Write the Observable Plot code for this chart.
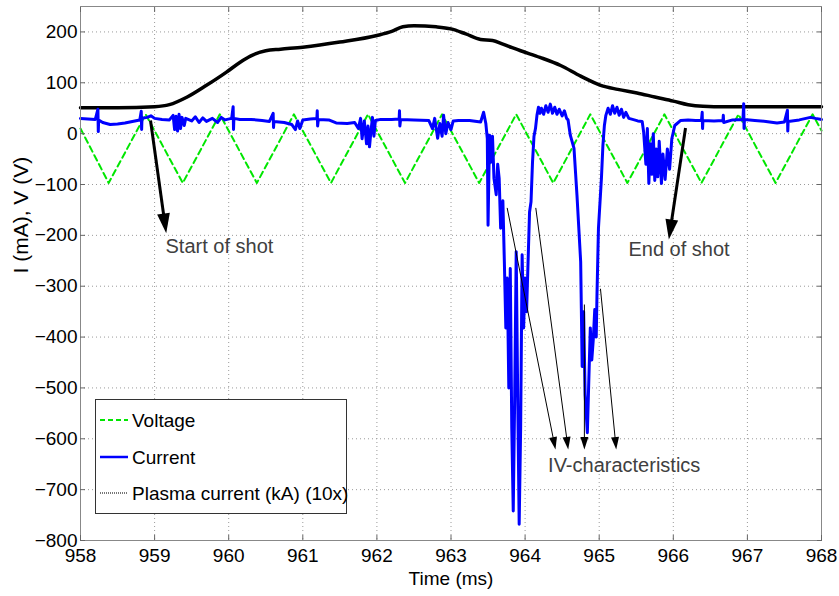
<!DOCTYPE html>
<html><head><meta charset="utf-8">
<script src="https://cdn.jsdelivr.net/npm/d3@7"></script>
<script src="https://cdn.jsdelivr.net/npm/@observablehq/plot@0.6"></script>
<style>
body{margin:0;background:#fff;}
#wrap{position:relative;width:839px;height:596px;overflow:hidden;}
#legend{position:absolute;left:95px;top:399px;}
</style></head><body><div id="wrap"></div>
<script>
// ---- data ----
const xTicks = [958, 959, 960, 961, 962, 963, 964, 965, 966, 967, 968];
const yTicks = [-800, -700, -600, -500, -400, -300, -200, -100, 0, 100, 200];

const voltT = [958.0, 958.38, 958.88, 959.38, 959.88, 960.38, 960.88, 961.38, 961.88, 962.38, 962.88, 963.38, 963.88, 964.38, 964.88, 965.38, 965.88, 966.38, 966.88, 967.38, 967.88, 968.0];
const voltV = [10, -97, 38, -97, 38, -97, 38, -97, 38, -97, 38, -97, 38, -97, 38, -97, 38, -97, 38, -97, 38, 6];

const plasmaT = [958.0, 958.5, 959.0, 959.2, 959.44, 959.7, 959.97, 960.15, 960.3, 960.5, 960.7, 961.0, 961.5, 962.0, 962.2, 962.35, 962.5, 962.8, 963.0, 963.2, 963.4, 963.56, 963.7, 963.94, 964.2, 964.48, 964.75, 965.02, 965.25, 965.51, 965.75, 966.0, 966.2, 966.4, 966.7, 967.0, 967.5, 968.0];
const plasmaV = [51, 51, 53, 57, 72, 95, 121, 140, 153, 163, 166, 170, 180, 193, 201, 210, 212, 210, 206, 196, 185, 183, 176, 163, 150, 134, 113, 95, 87, 80, 72, 64, 57, 54, 53, 53, 53, 53];

const currT = [958.00, 958.10, 958.20, 958.235, 958.24, 958.245, 958.30, 958.40, 958.50, 958.60, 958.70, 958.80, 958.82, 958.825, 958.83, 958.90, 958.95, 959.00, 959.10, 959.20, 959.25, 959.27, 959.29, 959.31, 959.33, 959.35, 959.37, 959.40, 959.42, 959.50, 959.55, 959.60, 959.65, 959.70, 959.78, 959.85, 959.90, 959.95, 960.04, 960.06, 960.065, 960.07, 960.15, 960.30, 960.45, 960.55, 960.60, 960.605, 960.61, 960.75, 960.85, 960.90, 960.93, 960.96, 961.00, 961.10, 961.19, 961.195, 961.20, 961.21, 961.35, 961.45, 961.60, 961.70, 961.75, 961.78, 961.80, 961.83, 961.86, 961.88, 961.90, 961.92, 961.94, 961.96, 961.98, 962.05, 962.20, 962.30, 962.305, 962.31, 962.32, 962.50, 962.70, 962.75, 962.78, 962.82, 962.85, 962.88, 962.90, 962.93, 962.96, 963.00, 963.03, 963.10, 963.25, 963.40, 963.44, 963.47, 963.49, 963.50, 963.52, 963.54, 963.56, 963.58, 963.61, 963.63, 963.65, 963.67, 963.70, 963.72, 963.74, 963.76, 963.78, 963.80, 963.82, 963.84, 963.86, 963.88, 963.90, 963.92, 963.94, 963.96, 963.98, 964.00, 964.02, 964.04, 964.06, 964.08, 964.10, 964.12, 964.14, 964.16, 964.18, 964.20, 964.22, 964.25, 964.28, 964.31, 964.34, 964.37, 964.40, 964.43, 964.46, 964.50, 964.53, 964.56, 964.58, 964.61, 964.66, 964.70, 964.75, 964.77, 964.79, 964.81, 964.84, 964.86, 964.88, 964.90, 964.92, 964.94, 964.96, 964.97, 964.99, 965.03, 965.05, 965.07, 965.09, 965.12, 965.15, 965.18, 965.21, 965.24, 965.27, 965.30, 965.33, 965.36, 965.40, 965.45, 965.52, 965.58, 965.60, 965.63, 965.65, 965.67, 965.69, 965.71, 965.73, 965.75, 965.77, 965.79, 965.81, 965.84, 965.86, 965.89, 965.92, 965.95, 965.98, 966.02, 966.10, 966.20, 966.30, 966.38, 966.39, 966.395, 966.40, 966.55, 966.67, 966.675, 966.68, 966.80, 966.94, 966.95, 966.955, 966.96, 967.10, 967.25, 967.40, 967.50, 967.54, 967.545, 967.55, 967.70, 967.85, 967.92, 968.00];
const currV = [30, 29, 28, 48, 4, 27, 22, 18, 19, 21, 24, 27, 44, 8, 30, 32, 35, 30, 28, 27, 36, 8, 34, 5, 38, 10, 32, 16, 30, 25, 33, 22, 31, 24, 30, 22, 32, 27, 30, 53, 8, 30, 28, 28, 26, 24, 40, 12, 24, 22, 18, 8, 25, 10, 27, 29, 30, 45, 15, 28, 27, 21, 20, 22, 10, 30, -10, 25, -20, 15, -26, 5, 32, -5, 26, 28, 28, 29, 45, 15, 28, 27, 26, 10, 30, -9, 20, -5, 36, 0, 22, 8, 25, 26, 26, 23, 42, 20, -10, -180, -3, -56, -5, -88, -120, -60, -88, -186, -132, -252, -382, -284, -500, -265, -578, -742, -513, -232, -513, -768, -578, -238, -382, -284, -350, -252, -154, -134, -56, -5, 10, 36, 52, 40, 50, 38, 55, 42, 58, 40, 52, 38, 48, 35, 45, 30, 27, -3, -29, -121, -252, -458, -350, -513, -588, -484, -382, -445, -405, -346, -400, -317, -186, -88, -23, 16, 36, 50, 38, 55, 40, 52, 36, 48, 32, 42, 30, 28, 25, 24, 3, -60, 10, -98, -20, -80, 0, -92, -30, -85, -15, -98, -40, -90, -30, -70, -10, 16, 26, 27, 26, 26, 42, 10, 26, 25, 26, 36, 22, 27, 28, 59, 10, 28, 26, 24, 21, 23, 46, 5, 24, 27, 32, 30, 28];

// arrows: start (x1,y1) -> tip (x2,y2)
const arrowX1 = [958.945, 966.165, 963.758, 964.144, 964.80, 965.017];
const arrowY1 = [26, 11, -146, -146, -336, -305];
const arrowX2 = [959.157, 965.94, 964.41, 964.582, 964.80, 965.23];
const arrowY2 = [-196, -208, -621, -621, -621, -621];
const arrowHeavy = [true, true, false, false, false, false];

const noteText = ["Start of shot", "End of shot", "IV-characteristics"];
const noteX = [959.147, 965.395, 964.31];
const noteY = [-222, -228, -653];

const legendLabels = ["Voltage", "Current", "Plasma current (kA) (10x)"];

// ---- layout ----
const W = 839, H = 596, mL = 80, mR = 18, mT = 6, mB = 56;
const xDomain = [958, 968], yDomain = [-800, 250];
const sx = d3.scaleLinear(xDomain, [mL, W - mR]);
const sy = d3.scaleLinear(yDomain, [H - mB, mT]);

const voltage = voltT.map((t, i) => ({t, v: voltV[i]}));
const plasma = plasmaT.map((t, i) => ({t, v: plasmaV[i]}));
const current = currT.map((t, i) => ({t, v: currV[i]}));

// arrow geometry (head as custom triangle symbol with tip at origin)
const headSymbol = {
  draw(context, size) {
    const r = Math.sqrt(size / Math.PI);
    const h = 2.5 * r, w = 1.6 * r;
    context.moveTo(0, 0);
    context.lineTo(-w / 2, h);
    context.lineTo(w / 2, h);
    context.closePath();
  }
};
const R_HEAVY = 8, R_LIGHT = 5;
const arrows = arrowX1.map((x1, i) => {
  const px1 = sx(x1), py1 = sy(arrowY1[i]), px2 = sx(arrowX2[i]), py2 = sy(arrowY2[i]);
  const dx = px2 - px1, dy = py2 - py1, len = Math.hypot(dx, dy);
  const r = arrowHeavy[i] ? R_HEAVY : R_LIGHT;
  const back = 2.5 * r * 0.6;
  return {
    x1, y1: arrowY1[i], x2: arrowX2[i], y2: arrowY2[i],
    lx2: sx.invert(px2 - dx / len * back), ly2: sy.invert(py2 - dy / len * back),
    angle: Math.atan2(dx, -dy) * 180 / Math.PI,
    heavy: arrowHeavy[i]
  };
});
const heavyArrows = arrows.filter(d => d.heavy);
const lightArrows = arrows.filter(d => !d.heavy);
const notes = noteText.map((s, i) => ({s, x: noteX[i], y: noteY[i]}));

const font = "'Liberation Sans', Arial, Helvetica, sans-serif";
const fmt = d3.format("d");

const plot = Plot.plot({
  width: W, height: H,
  marginLeft: mL, marginRight: mR, marginTop: mT, marginBottom: mB,
  style: {fontFamily: font, fontSize: "19px", color: "#000", background: "#fff", overflow: "visible"},
  x: {domain: xDomain},
  y: {domain: yDomain},
  marks: [
    Plot.gridX(xTicks, {stroke: "#9a9a9a", strokeOpacity: 1, strokeDasharray: "1,3"}),
    Plot.gridY(yTicks, {stroke: "#9a9a9a", strokeOpacity: 1, strokeDasharray: "1,3"}),
    Plot.line(voltage, {x: "t", y: "v", stroke: "#00e600", strokeWidth: 2, strokeDasharray: "6,4"}),
    Plot.line(plasma, {x: "t", y: "v", stroke: "#000", strokeWidth: 3.5, curve: "monotone-x"}),
    Plot.line(current, {x: "t", y: "v", stroke: "#0000ff", strokeWidth: 3, strokeLinejoin: "round"}),
    Plot.link(heavyArrows, {x1: "x1", y1: "y1", x2: "lx2", y2: "ly2", stroke: "#000", strokeWidth: 3}),
    Plot.link(lightArrows, {x1: "x1", y1: "y1", x2: "lx2", y2: "ly2", stroke: "#000", strokeWidth: 1}),
    Plot.dot(heavyArrows, {x: "x2", y: "y2", r: R_HEAVY, rotate: "angle", symbol: headSymbol, fill: "#000", stroke: "none"}),
    Plot.dot(lightArrows, {x: "x2", y: "y2", r: R_LIGHT, rotate: "angle", symbol: headSymbol, fill: "#000", stroke: "none"}),
    Plot.text(notes, {x: "x", y: "y", text: "s", textAnchor: "start", fontSize: 20, fill: "#404040"}),
    Plot.frame({stroke: "#888"}),
    Plot.axisX(xTicks, {anchor: "bottom", tickSize: 0, tickPadding: 8, tickFormat: fmt, label: null, fontSize: 19}),
    Plot.axisY(yTicks, {anchor: "left", tickSize: 0, tickPadding: 3, tickFormat: fmt, label: null, fontSize: 19}),
    Plot.axisX(xTicks, {anchor: "bottom", tickSize: -5, tickFormat: () => "", label: null, stroke: "#666"}),
    Plot.axisX(xTicks, {anchor: "top", tickSize: -5, tickFormat: () => "", label: null, stroke: "#666"}),
    Plot.axisY(yTicks, {anchor: "left", tickSize: -5, tickFormat: () => "", label: null, stroke: "#666"}),
    Plot.axisY(yTicks, {anchor: "right", tickSize: -5, tickFormat: () => "", label: null, stroke: "#666"}),
    Plot.text(["I (mA), V (V)"], {frameAnchor: "left", dx: -59, rotate: -90, fontSize: 21, fill: "#000"}),
    Plot.text(["Time (ms)"], {frameAnchor: "bottom", dy: 44, fontSize: 19, fill: "#000"})
  ]
});
const wrap = document.getElementById("wrap");
wrap.appendChild(plot);

// ---- legend overlay ----
const ns = "http://www.w3.org/2000/svg";
const lg = document.createElementNS(ns, "svg");
lg.setAttribute("id", "legend");
lg.setAttribute("width", 253);
lg.setAttribute("height", 116);
lg.style.fontFamily = font;
const box = document.createElementNS(ns, "rect");
box.setAttribute("x", 0.5); box.setAttribute("y", 0.5);
box.setAttribute("width", 251); box.setAttribute("height", 114);
box.setAttribute("fill", "#fff"); box.setAttribute("stroke", "#333");
lg.appendChild(box);
const styles = [
  {stroke: "#00e600", width: 2, dash: "5,3"},
  {stroke: "#0000ff", width: 2.5, dash: null},
  {stroke: "#777", width: 2, dash: "1,1"}
];
const rowsY = [21, 58, 94];
legendLabels.forEach((lab, i) => {
  const ln = document.createElementNS(ns, "line");
  ln.setAttribute("x1", 5); ln.setAttribute("x2", 33);
  ln.setAttribute("y1", rowsY[i]); ln.setAttribute("y2", rowsY[i]);
  ln.setAttribute("stroke", styles[i].stroke);
  ln.setAttribute("stroke-width", styles[i].width);
  if (styles[i].dash) ln.setAttribute("stroke-dasharray", styles[i].dash);
  lg.appendChild(ln);
  const tx = document.createElementNS(ns, "text");
  tx.setAttribute("x", 37); tx.setAttribute("y", rowsY[i]);
  tx.setAttribute("dy", "0.35em");
  tx.setAttribute("font-size", 19);
  tx.textContent = lab;
  lg.appendChild(tx);
});
wrap.appendChild(lg);
</script>
</body></html>
